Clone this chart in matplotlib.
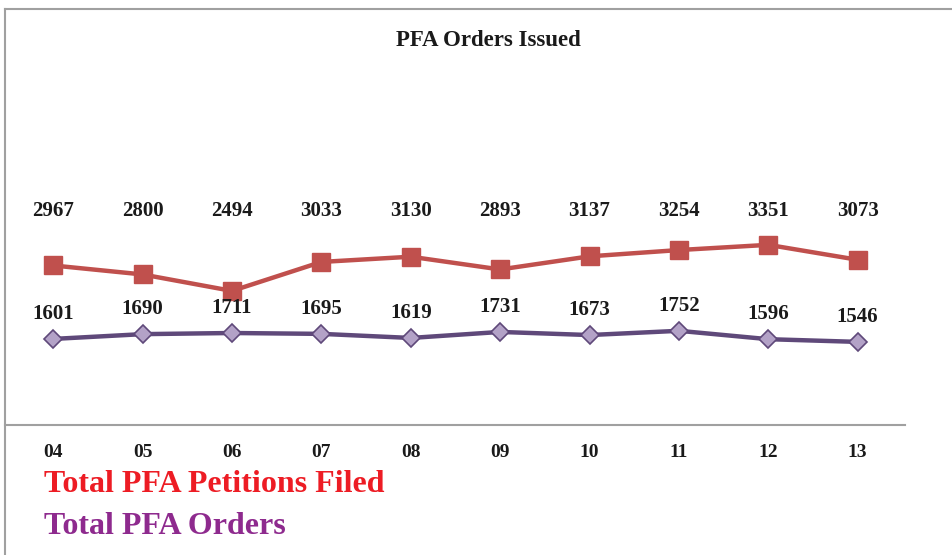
import matplotlib.pyplot as plt
import matplotlib.transforms as mtransforms
from matplotlib.lines import Line2D

years = ["04", "05", "06", "07", "08", "09", "10", "11", "12", "13"]
petitions = [2967, 2800, 2494, 3033, 3130, 2893, 3137, 3254, 3351, 3073]
orders = [1601, 1690, 1711, 1695, 1619, 1731, 1673, 1752, 1596, 1546]

plt.rcParams['font.family'] = ['Liberation Serif', 'DejaVu Serif']
plt.rcParams['font.weight'] = 'bold'

fig = plt.figure(figsize=(9.52, 5.55), dpi=100)
W, H = 952, 555
ax = fig.add_axes([5 / W, (H - 425) / H, 900 / W, 417 / H])
x = list(range(len(years)))

ax.plot(x, petitions, color='#c0504d', lw=3.2, marker='s', ms=12.5,
        mfc='#c0504d', mec='#c0504d')
ax.plot(x, orders, color='#5f497a', lw=3.2, marker='D', ms=9.5,
        mfc='#b3a2c7', mec='#5f497a', mew=1.2)

ax.set_xlim(-0.54, 9.53)
ax.set_ylim(0, 7756)

# red labels sit on one row, purple ones just above each point
trans = mtransforms.blended_transform_factory(ax.transData, ax.transAxes)
for xi, v in zip(x, petitions):
    ax.text(xi, 0.512, str(v), transform=trans, ha='center', va='center',
            fontsize=15, fontweight='bold', color='#1a1a1a')
for xi, v in zip(x, orders):
    ax.annotate(str(v), (xi, v), xytext=(0, 18), textcoords='offset points',
                ha='center', va='center', fontsize=15, fontweight='bold',
                color='#1a1a1a')

ax.set_xticks(x)
ax.set_xticklabels(years, fontsize=14, fontweight='bold', color='#1a1a1a')
ax.tick_params(axis='x', length=0, pad=14)
ax.set_yticks([])
for s in ['top', 'right', 'left']:
    ax.spines[s].set_visible(False)
ax.spines['bottom'].set_color('#a0a0a0')
ax.spines['bottom'].set_linewidth(1.5)

# outer frame: top and left border
fig.add_artist(Line2D([5 / W, 1], [1 - 9 / H, 1 - 9 / H], color='#a0a0a0', lw=1.5))
fig.add_artist(Line2D([5 / W, 5 / W], [0, 1 - 9 / H], color='#a0a0a0', lw=1.5))

fig.text(488 / W, 1 - 41 / H, "PFA Orders Issued", ha='center', va='center',
         fontsize=16.5, fontweight='bold', color='#1a1a1a')
fig.text(44 / W, 1 - 484 / H, "Total PFA Petitions Filed", ha='left', va='center',
         fontsize=23, fontweight='bold', color='#ed1c24')
fig.text(44 / W, 1 - 526 / H, "Total PFA Orders", ha='left', va='center',
         fontsize=23, fontweight='bold', color='#8e2a8e')

fig.savefig("out.png", dpi=100)
